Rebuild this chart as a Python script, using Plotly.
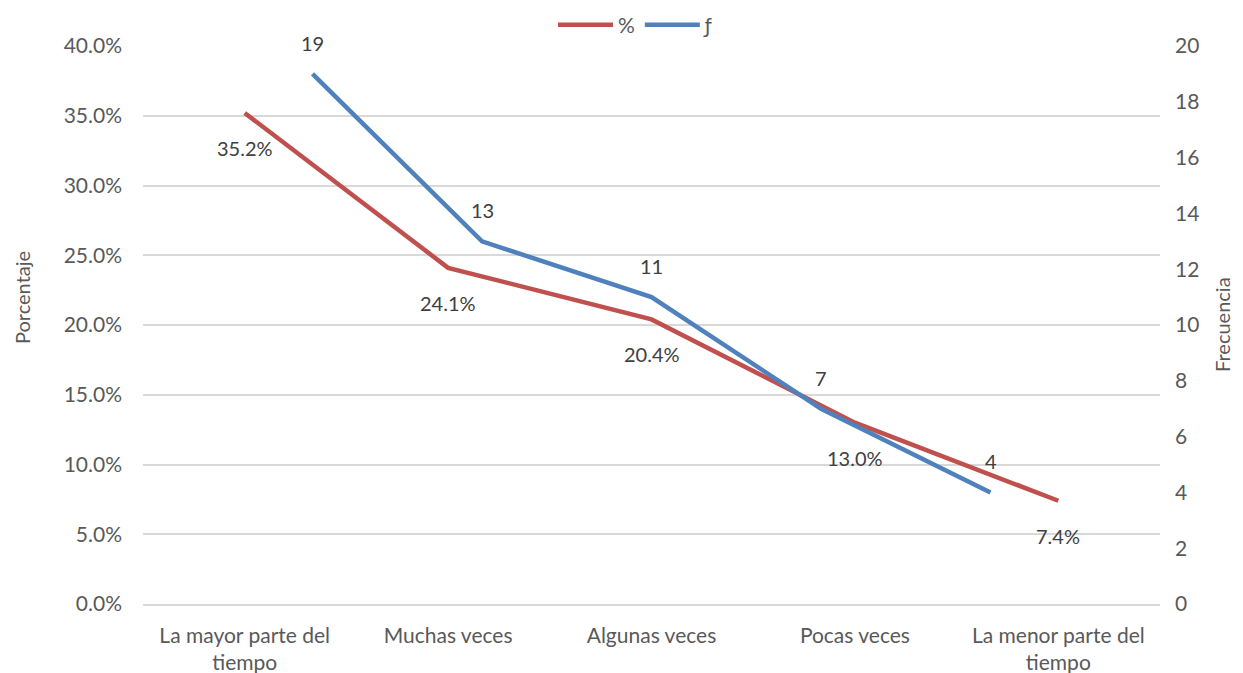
import plotly.graph_objects as go

categories = ["La mayor parte del<br>tiempo", "Muchas veces", "Algunas veces", "Pocas veces", "La menor parte del<br>tiempo"]
porcentaje = [0.352, 0.241, 0.204, 0.130, 0.074]
frecuencia = [19, 13, 11, 7, 4]
blue_pos = [1, 2, 3, 4, 5]

RED = "#C0504D"
BLUE = "#4F81BD"
TXT = "#595959"
LBL = "#404040"
FONT = "Lato"
FS = 21

# page body has an 8px default margin; plot area target: x 143..1160, y 46..604
PL, PR, PT, PB = 143, 1160, 46, 604
PW = PR - PL
PH = PB - PT

fig = go.Figure()
fig.add_trace(go.Scatter(
    x=categories, y=porcentaje, name="%", mode="lines",
    line=dict(color=RED, width=4.5),
    xaxis="x", yaxis="y",
))
fig.add_trace(go.Scatter(
    x=blue_pos, y=frecuencia, name="ƒ", mode="lines",
    line=dict(color=BLUE, width=4.5),
    xaxis="x2", yaxis="y2",
))

annotations = []
for c, v in zip(categories, porcentaje):
    annotations.append(dict(x=c, y=v, xref="x", yref="y", text=f"{v*100:.1f}%",
                            showarrow=False, yshift=-35,
                            font=dict(size=FS - 1, color=LBL, family=FONT)))
for p, v in zip(blue_pos, frecuencia):
    annotations.append(dict(x=p, y=v, xref="x2", yref="y2", text=str(v),
                            showarrow=False, yshift=31,
                            font=dict(size=FS - 1, color=LBL, family=FONT)))
annotations.append(dict(x=(22 - PL) / PW, y=(PB - 298) / PH, xref="paper", yref="paper",
                        text="Porcentaje", showarrow=False, textangle=-90,
                        xanchor="center", yanchor="middle",
                        font=dict(size=FS - 1, color=TXT, family=FONT)))
annotations.append(dict(x=(1222 - PL) / PW, y=(PB - 325) / PH, xref="paper", yref="paper",
                        text="Frecuencia", showarrow=False, textangle=-90,
                        xanchor="center", yanchor="middle",
                        font=dict(size=FS - 1, color=TXT, family=FONT)))

fig.update_layout(
    width=1235, height=665,
    margin=dict(l=PL - 8, r=1243 - PR, t=PT - 8, b=673 - PB, autoexpand=False),
    plot_bgcolor="white", paper_bgcolor="white",
    font=dict(family=FONT, size=FS, color=TXT),
    showlegend=True,
    legend=dict(orientation="h", x=(636 - PL) / PW, xanchor="center", yref="container",
                y=1 - (25 - 8) / 665, yanchor="middle",
                font=dict(size=FS, color=TXT), traceorder="normal",
                itemwidth=55, bgcolor="rgba(0,0,0,0)"),
    annotations=annotations,
    xaxis=dict(type="category", range=[-0.5, 4.5], showgrid=False, automargin=False,
               showline=True, linecolor="#D9D9D9", linewidth=1.5,
               ticks="", ticklabelstandoff=12,
               tickfont=dict(size=FS, color=TXT, family=FONT)),
    xaxis2=dict(range=[0, 6], overlaying="x", visible=False),
    yaxis=dict(range=[0, 0.4], dtick=0.05, tickformat=".1%", automargin=False,
               showgrid=True, gridcolor="#D9D9D9", gridwidth=1.5,
               zeroline=False, ticks="", ticklabelstandoff=20,
               tickfont=dict(size=FS, color=TXT, family=FONT)),
    yaxis2=dict(range=[0, 20], dtick=2, overlaying="y", side="right", automargin=False,
                showgrid=False, zeroline=False, ticks="", ticklabelstandoff=14,
                tickfont=dict(size=FS, color=TXT, family=FONT)),
)

fig.write_html("out.html")
